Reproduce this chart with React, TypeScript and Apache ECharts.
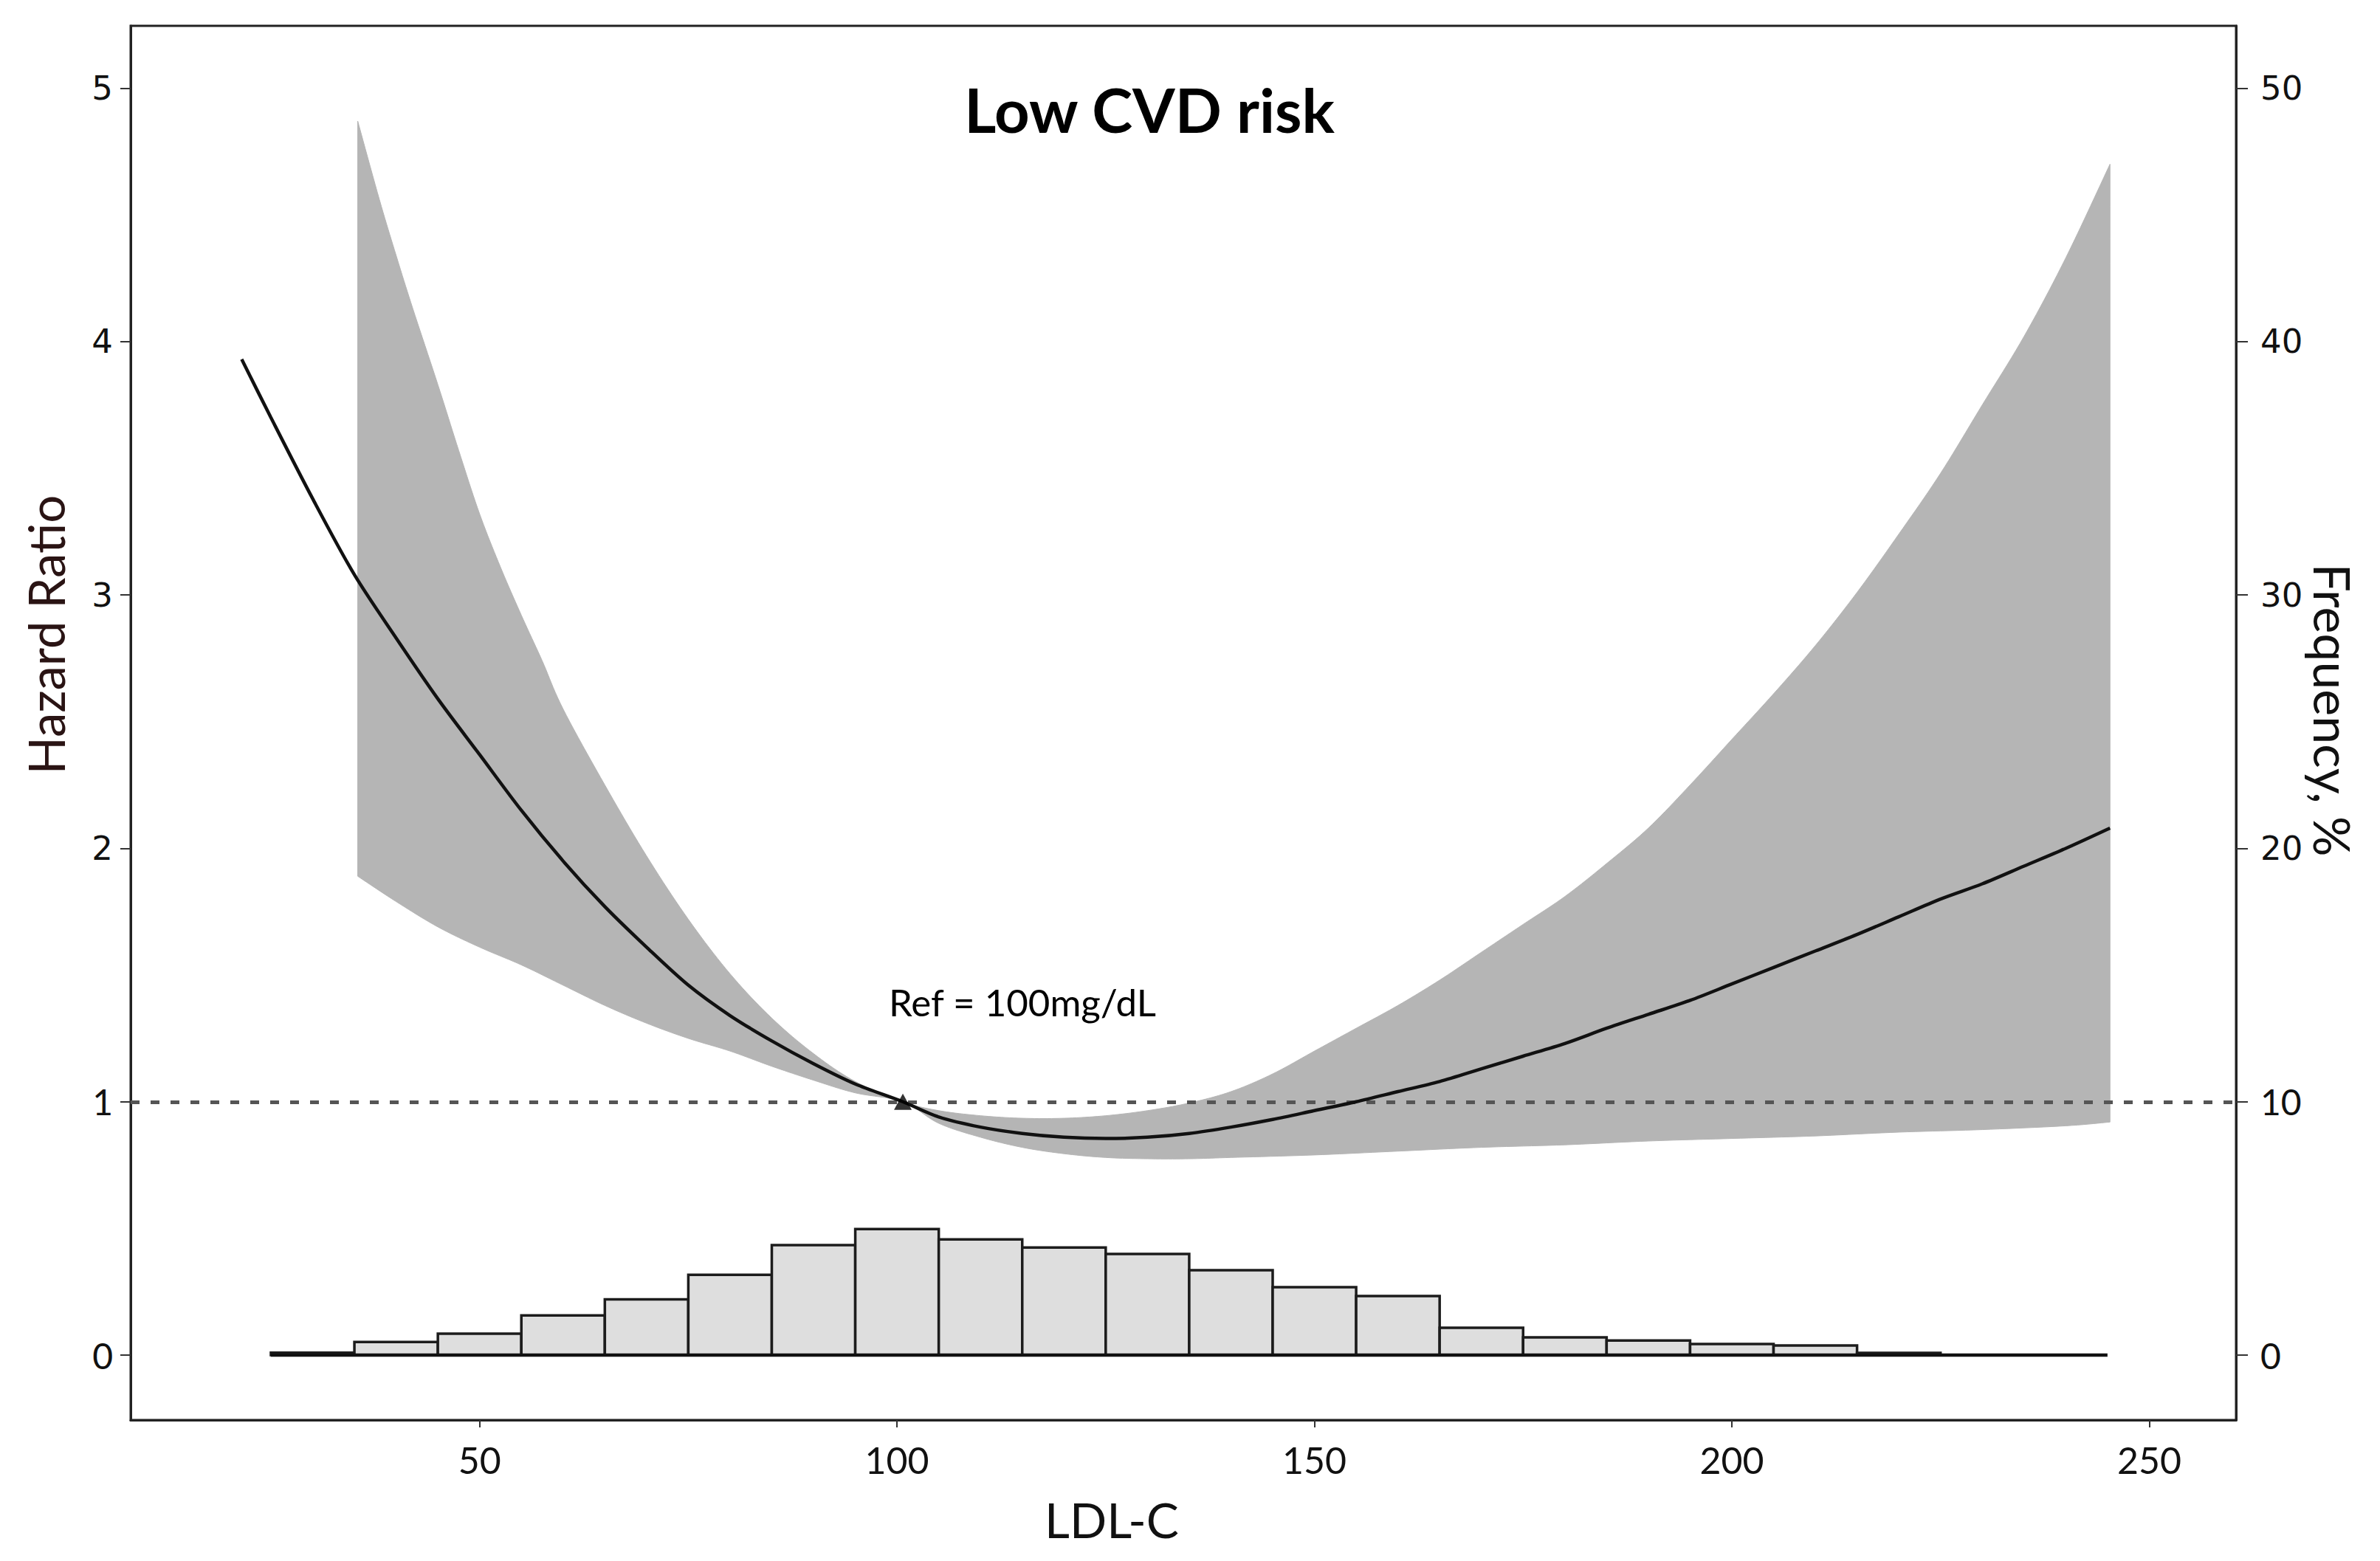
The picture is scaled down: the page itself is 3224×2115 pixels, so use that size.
import React, { useEffect, useRef } from "react";
import * as echarts from "echarts";

// ---- axis ticks ----
const xTicks = [50, 100, 150, 200, 250];
const hrTicks = [0, 1, 2, 3, 4, 5];
const freqTicks = [0, 10, 20, 30, 40, 50];

// ---- hazard ratio curve (LDL-C, HR) ----
const ldlLine = [21.5, 25, 30, 35, 40, 45, 50, 55, 60, 65, 70, 75, 80, 85, 90, 95, 100.7, 105, 110, 115, 120, 125, 130, 135, 140, 145, 150, 155, 160, 165, 170, 175, 180, 185, 190, 195, 200, 205, 210, 215, 220, 225, 230, 235, 240, 245.3];
const hrLine = [3.93, 3.7, 3.38, 3.08, 2.83, 2.59, 2.37, 2.15, 1.95, 1.77, 1.61, 1.46, 1.34, 1.24, 1.15, 1.07, 1.0, 0.94, 0.9, 0.875, 0.86, 0.855, 0.86, 0.875, 0.9, 0.93, 0.965, 1.0, 1.04, 1.08, 1.13, 1.18, 1.23, 1.29, 1.345, 1.4, 1.465, 1.53, 1.595, 1.66, 1.73, 1.8, 1.86, 1.93, 2.0, 2.08];

// ---- 95% CI band: upper limit ----
const bandUpX = [35.4, 38, 40, 42, 45, 47.5, 50, 52.5, 55, 57.5, 60, 65, 70, 75, 80, 85, 90, 95, 100.7, 105, 110, 115, 120, 125, 130, 135, 140, 145, 150, 155, 160, 165, 170, 175, 180, 185, 190, 195, 200, 205, 210, 215, 220, 225, 230, 235, 240, 245.3];
const bandUp = [4.87, 4.56, 4.34, 4.13, 3.83, 3.57, 3.32, 3.11, 2.92, 2.74, 2.55, 2.25, 1.97, 1.72, 1.505, 1.33, 1.19, 1.08, 1.0, 0.965, 0.945, 0.935, 0.935, 0.945, 0.965, 0.995, 1.04, 1.11, 1.2, 1.29, 1.38, 1.48, 1.59, 1.7, 1.81, 1.94, 2.08, 2.25, 2.43, 2.61, 2.8, 3.01, 3.24, 3.48, 3.75, 4.02, 4.33, 4.7];
// ---- 95% CI band: lower limit ----
const bandLoX = [35.4, 40, 45, 50, 55, 60, 65, 70, 75, 80, 85, 90, 95, 100.7, 105, 110, 115, 120, 125, 130, 135, 140, 150, 160, 170, 180, 190, 200, 210, 220, 230, 240, 245.3];
const bandLo = [1.89, 1.79, 1.69, 1.61, 1.54, 1.46, 1.38, 1.31, 1.25, 1.2, 1.14, 1.085, 1.035, 1.0, 0.915, 0.86, 0.82, 0.795, 0.78, 0.775, 0.775, 0.78, 0.79, 0.805, 0.82, 0.83, 0.845, 0.855, 0.865, 0.88, 0.89, 0.905, 0.92];

// ---- histogram (frequency, %) ----
const binEdges = [25, 35, 45, 55, 65, 75, 85, 95, 105, 115, 125, 135, 145, 155, 165, 175, 185, 195, 205, 215, 225, 235, 245];
const binFreq = [0.1, 0.52, 0.85, 1.57, 2.2, 3.17, 4.34, 4.98, 4.57, 4.25, 3.99, 3.35, 2.68, 2.33, 1.08, 0.7, 0.58, 0.44, 0.38, 0.09, 0, 0];

// ---- reference ----
const refPoint = [100.7, 1.0];
const refLevel = 1;

const TEXT = "#111";
const BAND = "#b5b5b5";

// smooth rendering (Catmull-Rom in pixel space) of already projected points
function smoothPixels(pts: number[][], steps = 10): number[][] {
  const out: number[][] = [];
  const n = pts.length;
  for (let i = 0; i < n - 1; i++) {
    const p0 = pts[i];
    const p1 = pts[i + 1];
    const pm = i > 0 ? pts[i - 1] : p0;
    const pp = i + 2 < n ? pts[i + 2] : p1;
    const m0 = [(p1[0] - pm[0]) / 2, (p1[1] - pm[1]) / 2];
    const m1 = [(pp[0] - p0[0]) / 2, (pp[1] - p0[1]) / 2];
    for (let s = 0; s < steps; s++) {
      const t = s / steps;
      const t2 = t * t;
      const t3 = t2 * t;
      const h00 = 2 * t3 - 3 * t2 + 1;
      const h10 = t3 - 2 * t2 + t;
      const h01 = -2 * t3 + 3 * t2;
      const h11 = t3 - t2;
      out.push([
        h00 * p0[0] + h10 * m0[0] + h01 * p1[0] + h11 * m1[0],
        h00 * p0[1] + h10 * m0[1] + h01 * p1[1] + h11 * m1[1],
      ]);
    }
  }
  out.push(pts[n - 1]);
  return out;
}

function buildOption() {
  const lineData = ldlLine.map((x, i) => [x, hrLine[i]]);
  const histData = binFreq.map((f, i) => [binEdges[i], binEdges[i + 1], f]);
  const baseData = [
    [binEdges[0], 0],
    [binEdges[binEdges.length - 1], 0],
  ];

  const richLabels = {
    n: { fontFamily: "Lato", fontSize: 48, color: TEXT },
    w: { fontFamily: "DejaVu Sans", fontSize: 45, color: TEXT },
  };

  const centered = {
    align: "center",
    verticalAlign: "middle",
    textAlign: "center",
    textVerticalAlign: "middle",
  };

  return {
    animation: false,
    backgroundColor: "#ffffff",
    grid: {
      left: 177,
      right: 195,
      top: 35,
      bottom: 191,
      containLabel: false,
      outerBoundsMode: "none",
      show: true,
      borderColor: "#222",
      borderWidth: 3,
      backgroundColor: "transparent",
    },
    xAxis: {
      type: "value",
      min: 8.2,
      max: 260.4,
      position: "bottom",
      axisLine: { show: true, onZero: false, lineStyle: { color: "#222", width: 3 } },
      axisTick: { show: true, length: 10, customValues: xTicks, lineStyle: { color: "#333", width: 2 } },
      axisLabel: { customValues: xTicks, margin: 29, fontFamily: "Lato", fontSize: 50, color: TEXT },
      splitLine: { show: false },
    },
    yAxis: [
      {
        type: "value",
        min: -0.256,
        max: 5.246,
        position: "left",
        axisLine: { show: true, onZero: false, lineStyle: { color: "#222", width: 3 } },
        axisTick: { show: true, length: 14, customValues: hrTicks, lineStyle: { color: "#333", width: 2 } },
        axisLabel: {
          customValues: hrTicks,
          margin: 24,
          formatter: (v: number) => (v >= 2 ? `{w|${v}}` : `{n|${v}}`),
          rich: richLabels,
        },
        splitLine: { show: false },
      },
      {
        type: "value",
        min: -2.56,
        max: 52.46,
        position: "right",
        axisLine: { show: true, onZero: false, lineStyle: { color: "#222", width: 3 } },
        axisTick: { show: true, length: 16, customValues: freqTicks, lineStyle: { color: "#333", width: 2 } },
        axisLabel: {
          customValues: freqTicks,
          margin: 33,
          formatter: (v: number) => (v >= 20 ? `{w|${v}}` : `{n|${v}}`),
          rich: richLabels,
        },
        splitLine: { show: false },
      },
    ],
    graphic: [
      {
        type: "text",
        x: 1557,
        y: 148,
        style: { text: "Low CVD risk", fontFamily: "Lato", fontWeight: "bold", fontSize: 83, fill: "#000", ...centered },
      },
      {
        type: "text",
        x: 1385,
        y: 1357,
        style: { text: "Ref = 100mg/dL", fontFamily: "Lato", fontSize: 51, fill: "#000", ...centered },
      },
      {
        type: "text",
        x: 1506,
        y: 2058,
        style: { text: "LDL-C", fontFamily: "Lato", fontSize: 66, fill: TEXT, ...centered },
      },
      {
        type: "text",
        x: 62,
        y: 860,
        rotation: Math.PI / 2,
        style: { text: "Hazard Ratio", fontFamily: "Lato", fontSize: 67, fill: "#2a1414", ...centered },
      },
      {
        type: "text",
        x: 3160,
        y: 962,
        rotation: -Math.PI / 2,
        style: { text: "Frequency, %", fontFamily: "Lato", fontSize: 68, fill: TEXT, ...centered },
      },
    ],
    series: [
      {
        type: "custom",
        name: "95% CI",
        xAxisIndex: 0,
        yAxisIndex: 0,
        z: 1,
        silent: true,
        data: [refPoint],
        renderItem: (_params: any, api: any) => {
          const up = smoothPixels(bandUpX.map((x, i) => api.coord([x, bandUp[i]])));
          const lo = smoothPixels(bandLoX.map((x, i) => api.coord([x, bandLo[i]])));
          const pts = up.concat(lo.reverse());
          return {
            type: "polygon",
            shape: { points: pts },
            style: { fill: BAND, stroke: BAND, lineWidth: 1 },
          };
        },
      },
      {
        type: "custom",
        name: "Frequency",
        xAxisIndex: 0,
        yAxisIndex: 1,
        z: 3,
        silent: true,
        encode: { x: [0, 1], y: 2 },
        data: histData,
        renderItem: (_params: any, api: any) => {
          const f = api.value(2);
          if (!(f > 0)) return null;
          const p0 = api.coord([api.value(0), 0]);
          const p1 = api.coord([api.value(1), f]);
          return {
            type: "rect",
            shape: { x: p0[0], y: p1[1], width: p1[0] - p0[0], height: p0[1] - p1[1] },
            style: { fill: "#dedede", stroke: "#1c1c1c", lineWidth: 3.5 },
          };
        },
      },
      {
        type: "line",
        name: "baseline",
        xAxisIndex: 0,
        yAxisIndex: 1,
        z: 4,
        silent: true,
        symbol: "none",
        data: baseData,
        lineStyle: { color: "#111", width: 4.5 },
      },
      {
        type: "line",
        name: "Hazard Ratio",
        xAxisIndex: 0,
        yAxisIndex: 0,
        z: 5,
        silent: true,
        symbol: "none",
        smooth: 0.3,
        data: lineData,
        lineStyle: { color: "#111", width: 4.5 },
        markLine: {
          silent: true,
          symbol: "none",
          label: { show: false },
          lineStyle: { color: "#555", width: 5, type: [12, 15] },
          data: [{ yAxis: refLevel }],
        },
      },
      {
        type: "scatter",
        name: "Ref",
        xAxisIndex: 0,
        yAxisIndex: 0,
        z: 6,
        silent: true,
        symbol: "triangle",
        symbolSize: [24, 22],
        itemStyle: { color: "#000" },
        data: [refPoint],
      },
    ],
  };
}

export default function App() {
  const ref = useRef<HTMLDivElement>(null);
  useEffect(() => {
    if (!ref.current) return;
    const chart = echarts.init(ref.current, null, { renderer: "svg" });
    chart.setOption(buildOption() as any);
    return () => chart.dispose();
  }, []);
  return (
    <div
      ref={ref}
      style={{ position: "fixed", left: 0, top: 0, width: 3224, height: 2115, background: "#fff" }}
    />
  );
}
